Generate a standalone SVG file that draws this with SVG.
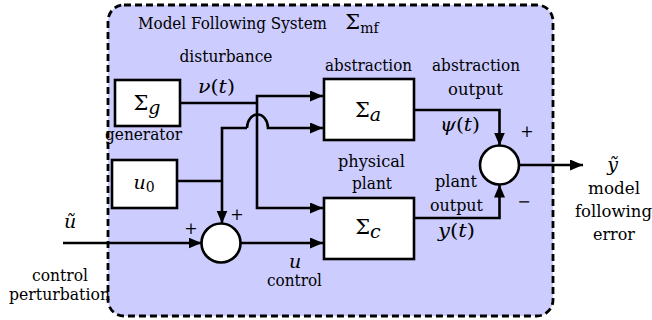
<svg xmlns="http://www.w3.org/2000/svg" width="652" height="320" viewBox="0 0 652 320">
<style>
text{font-family:"DejaVu Serif","Liberation Serif",serif;fill:#000;text-anchor:middle}
.t{font-size:16px}
.m{font-style:italic;font-size:19px}
.s{font-size:21px}
.box{fill:#fff;stroke:#000;stroke-width:2.6}
.sum{fill:#fff;stroke:#000;stroke-width:2.6}
.w{fill:none;stroke:#000;stroke-width:2.6}
.wa{fill:none;stroke:#000;stroke-width:2.6;marker-end:url(#ah)}
</style>
<defs>
<marker id="ah" markerUnits="userSpaceOnUse" markerWidth="14" markerHeight="12" refX="13" refY="5.5" orient="auto">
<path d="M0,0 L13,5.5 L0,11 z" fill="#000"/>
</marker>
</defs>
<rect x="108" y="5" width="445" height="311" rx="16" fill="#ccccff" stroke="#000" stroke-width="2.8" stroke-dasharray="7 4"/>
<text class="t" x="232.5" y="29" textLength="189" lengthAdjust="spacingAndGlyphs">Model Following System</text>
<text class="s" x="362" y="29" font-size="20">Σ<tspan font-size="14" dy="4">mf</tspan></text>

<g id="connectors">
<path class="w" d="M180,103 H257"/>
<path class="wa" d="M257,103 V96 H323"/>
<path class="wa" d="M257,103 V208 H323"/>
<path class="w" d="M177,181 H222"/>
<path class="wa" d="M247,128 H222 V223.5"/>
<path class="wa" d="M247,128 A10.5,13.5 0 0 1 268,128 H323"/>
<path class="wa" d="M63,243 H201.5"/>
<path class="wa" d="M240.5,243 H323"/>
<path class="wa" d="M414,110 H499.5 V145.5"/>
<path class="wa" d="M414,218 H499.5 V184.5"/>
<path class="wa" d="M519,165 H583"/>
</g>

<g id="generator">
<rect class="box" x="115" y="80" width="65" height="46"/>
<text class="s" x="147" y="110">Σ<tspan class="m" font-size="15" dy="4">g</tspan></text>
<text class="t" x="143.5" y="140" textLength="77" lengthAdjust="spacingAndGlyphs">generator</text>
</g>

<g id="u0">
<rect class="box" x="112" y="160" width="65" height="48"/>
<text class="m" x="144" y="189">u<tspan font-style="normal" font-size="14" dy="3">0</tspan></text>
</g>

<g id="abstraction">
<rect class="box" x="324" y="79" width="90" height="61"/>
<text class="s" x="368" y="117">Σ<tspan class="m" font-size="15" dy="4">a</tspan></text>
<text class="t" x="368.5" y="71" textLength="87" lengthAdjust="spacingAndGlyphs">abstraction</text>
</g>

<g id="plant">
<rect class="box" x="324" y="198" width="90" height="61"/>
<text class="s" x="368" y="234">Σ<tspan class="m" font-size="15" dy="4">c</tspan></text>
<text class="t" x="371.5" y="167" textLength="67" lengthAdjust="spacingAndGlyphs">physical</text>
<text class="t" x="372" y="189" textLength="40" lengthAdjust="spacingAndGlyphs">plant</text>
</g>

<g id="sum1">
<circle class="sum" cx="221" cy="243" r="19.5"/>
<text class="t" x="191" y="234">+</text>
<text class="t" x="237" y="220">+</text>
</g>

<g id="sum2">
<circle class="sum" cx="499.5" cy="165" r="19.5"/>
<text class="t" x="527" y="137">+</text>
<text class="t" x="524" y="207">−</text>
</g>

<g id="labels">
<text class="t" x="226" y="62" textLength="93" lengthAdjust="spacingAndGlyphs">disturbance</text>
<text class="m" x="216.5" y="93" textLength="37" lengthAdjust="spacingAndGlyphs">ν<tspan font-style="normal">(</tspan>t<tspan font-style="normal">)</tspan></text>
<text class="t" x="476" y="71" textLength="88" lengthAdjust="spacingAndGlyphs">abstraction</text>
<text class="t" x="475.5" y="95" textLength="55" lengthAdjust="spacingAndGlyphs">output</text>
<text class="m" x="460" y="131" textLength="40" lengthAdjust="spacingAndGlyphs">ψ<tspan font-style="normal">(</tspan>t<tspan font-style="normal">)</tspan></text>
<text class="t" x="456" y="187" textLength="42" lengthAdjust="spacingAndGlyphs">plant</text>
<text class="t" x="456.5" y="211" textLength="53" lengthAdjust="spacingAndGlyphs">output</text>
<text class="m" x="456.5" y="237" textLength="37" lengthAdjust="spacingAndGlyphs">y<tspan font-style="normal">(</tspan>t<tspan font-style="normal">)</tspan></text>
<text class="m" x="612.5" y="171">ỹ</text>
<text class="t" x="614" y="194" textLength="52" lengthAdjust="spacingAndGlyphs">model</text>
<text class="t" x="613.5" y="217" textLength="77" lengthAdjust="spacingAndGlyphs">following</text>
<text class="t" x="614" y="240" textLength="42" lengthAdjust="spacingAndGlyphs">error</text>
<text class="m" x="70" y="228">ũ</text>
<text class="t" x="60" y="281" textLength="56" lengthAdjust="spacingAndGlyphs">control</text>
<text class="t" x="59.5" y="300" textLength="101" lengthAdjust="spacingAndGlyphs">perturbation</text>
<text class="m" x="295" y="268">u</text>
<text class="t" x="294.5" y="286" textLength="55" lengthAdjust="spacingAndGlyphs">control</text>
</g>
</svg>
